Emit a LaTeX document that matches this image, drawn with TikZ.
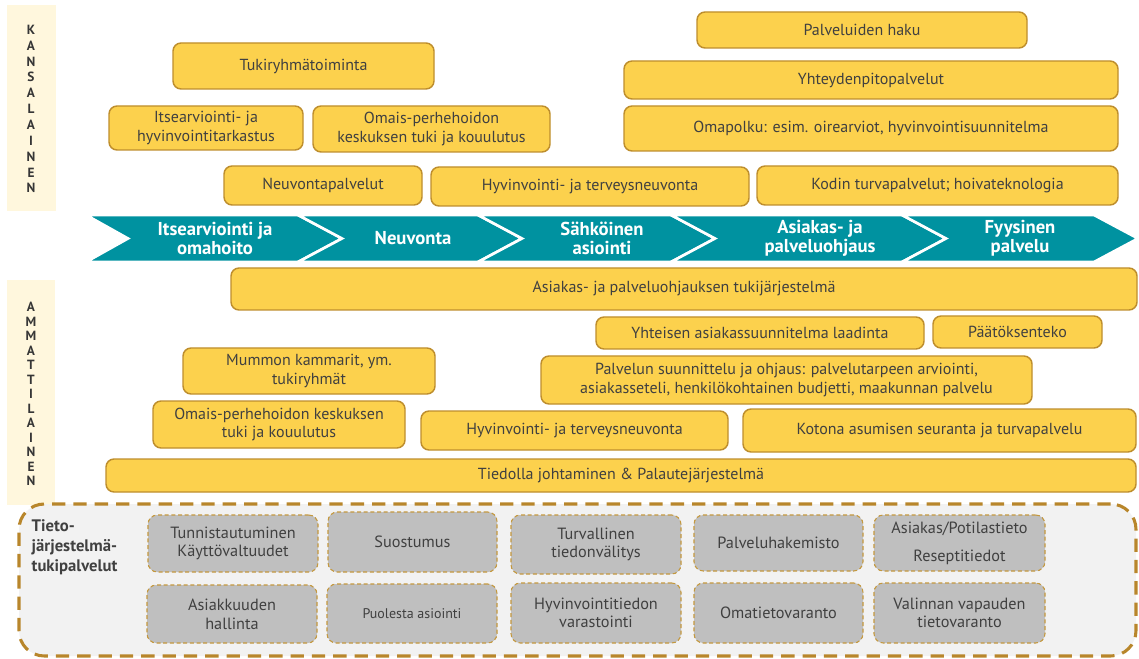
\documentclass[tikz,border=0pt]{standalone}
\usepackage{fontspec}
\setmainfont{PT Sans}
\definecolor{yfill}{RGB}{252,209,77}
\definecolor{ybord}{RGB}{190,142,45}
\definecolor{tealc}{RGB}{0,146,160}
\definecolor{cream}{RGB}{255,247,221}
\definecolor{gfill}{RGB}{191,191,191}
\definecolor{gbord}{RGB}{196,152,62}
\definecolor{cbord}{RGB}{184,134,43}
\definecolor{cfill}{RGB}{242,242,242}
\definecolor{txt}{RGB}{64,64,64}
\tikzset{
  ybox/.style={draw=ybord, fill=yfill, line width=1.1pt, rounded corners=6pt,
    inner sep=0pt, align=center, text=txt, font=\fontsize{12}{13.8}\selectfont},
  gbox/.style={draw=gbord, fill=gfill, line width=0.8pt, dash pattern=on 3pt off 2pt,
    rounded corners=7pt, inner sep=0pt, align=center, text=txt,
    font=\fontsize{12.2}{14}\selectfont},
  chev/.style={fill=tealc, draw=white, line width=2pt, line join=miter},
  chevtxt/.style={text=white, align=center, font=\bfseries\fontsize{14}{14.2}\selectfont},
  sidebar/.style={fill=cream, draw=none, inner sep=0pt},
  sideltr/.style={text=txt!85!black, align=center, font=\bfseries\fontsize{10}{#1}\selectfont},
  container/.style={draw=cbord, fill=cfill, line width=2.3pt, dash pattern=on 10pt off 6pt,
    rounded corners=19pt, inner sep=0pt}
}
% box spanning (x1,y1)-(x2,y2) in pixel units, text centred
\newcommand\pbox[7]{%
  \node[#1, minimum width={(#5-#3)*0.75pt}, minimum height={(#6-#4)*0.75pt}]
    (#2) at ({(#3+#5)/2},{(#4+#6)/2}) {#7};}
\begin{document}
\begin{tikzpicture}[x=0.75pt,y=-0.75pt]
\useasboundingbox (0,0) rectangle (1139,659);

% side bars with stacked role names
\pbox{sidebar}{kbar}{7}{5}{56}{211}{}
\node[sideltr=11.9pt] (kans) at (31,109) {K\\A\\N\\S\\A\\L\\A\\I\\N\\E\\N};
\pbox{sidebar}{abar}{7}{280}{55}{505}{}
\node[sideltr=10.9pt] (amm) at (31,394) {A\\M\\M\\A\\T\\T\\I\\L\\A\\I\\N\\E\\N};

% citizen services
\pbox{ybox}{haku}{697}{12}{1027}{48}{Palveluiden haku}
\pbox{ybox}{tuki}{173}{43}{434}{89}{Tukiryhmätoiminta}
\pbox{ybox}{yht}{624}{61}{1118}{99}{Yhteydenpitopalvelut}
\pbox{ybox}{itse}{109}{106}{303}{150}{Itsearviointi- ja\\hyvinvointitarkastus}
\pbox{ybox}{omais1}{313}{106}{550}{152}{Omais-perhehoidon\\keskuksen tuki ja kouulutus}
\pbox{ybox}{omap}{624}{106}{1118}{151}{Omapolku: esim. oirearviot, hyvinvointisuunnitelma}
\pbox{ybox}{neuv}{224}{166}{422}{205}{Neuvontapalvelut}
\pbox{ybox}{hyv1}{431}{167}{749}{206}{Hyvinvointi- ja terveysneuvonta}
\pbox{ybox}{kodin}{757}{166}{1118}{205}{Kodin turvapalvelut; hoivateknologia}

% process chevrons
\fill[chev] (86,215) -- (298,215) -- (342,238.5) -- (298,262) -- (86,262) -- (128,238.5) -- cycle;
\fill[chev] (298,215) -- (478,215) -- (522,238.5) -- (478,262) -- (298,262) -- (342,238.5) -- cycle;
\fill[chev] (478,215) -- (671,215) -- (715,238.5) -- (671,262) -- (478,262) -- (522,238.5) -- cycle;
\fill[chev] (671,215) -- (902,215) -- (946,238.5) -- (902,262) -- (671,262) -- (715,238.5) -- cycle;
\fill[chev] (902,215) -- (1094,215) -- (1138,238.5) -- (1094,262) -- (902,262) -- (946,238.5) -- cycle;
\node[chevtxt] (s1) at (215,238.5) {Itsearviointi ja\\omahoito};
\node[chevtxt] (s2) at (413,238.5) {Neuvonta};
\node[chevtxt] (s3) at (602,238.5) {Sähköinen\\asiointi};
\node[chevtxt] (s4) at (820,238.5) {Asiakas- ja\\palveluohjaus};
\node[chevtxt] (s5) at (1020,238.5) {Fyysinen\\palvelu};

% professional services
\pbox{ybox}{tukij}{231}{268}{1137}{310}{Asiakas- ja palveluohjauksen tukijärjestelmä}
\pbox{ybox}{yhteis}{596}{317}{924}{349}{Yhteisen asiakassuunnitelma laadinta}
\pbox{ybox}{paat}{933}{316}{1102}{348}{Päätöksenteko}
\pbox{ybox}{mummo}{183}{348}{435}{394}{Mummon kammarit, ym.\\tukiryhmät}
\pbox{ybox}{palv}{541}{356}{1032}{404}{Palvelun suunnittelu ja ohjaus: palvelutarpeen arviointi,\\asiakasseteli, henkilökohtainen budjetti, maakunnan palvelu}
\pbox{ybox}{omais2}{153}{401}{405}{448}{Omais-perhehoidon keskuksen\\tuki ja kouulutus}
\pbox{ybox}{hyv2}{421}{411}{728}{450}{Hyvinvointi- ja terveysneuvonta}
\pbox{ybox}{kotona}{743}{409}{1136}{452}{Kotona asumisen seuranta ja turvapalvelu}
\pbox{ybox}{tiedolla}{106}{459}{1136}{492}{Tiedolla johtaminen \& Palautejärjestelmä}

% information system support services
\pbox{container}{tieto}{19}{504}{1136}{656}{}
\node[anchor=north west, align=left, text=txt, font=\bfseries\fontsize{12.5}{15}\selectfont] (tlabel) at (27,515) {Tieto-\\järjestelmä-\\tukipalvelut};

\pbox{gbox}{g1}{148}{515}{318}{572}{Tunnistautuminen\\Käyttövaltuudet}
\pbox{gbox}{g2}{328}{512}{497}{572}{Suostumus}
\pbox{gbox}{g3}{511}{515}{681}{574}{Turvallinen\\tiedonvälitys}
\pbox{gbox}{g4}{694}{515}{863}{571}{Palveluhakemisto}
\pbox{gbox}{g5}{874}{515}{1045}{571}{Asiakas/Potilastieto\\[7pt]Reseptitiedot}
\pbox{gbox}{g6}{147}{585}{317}{643}{Asiakkuuden\\hallinta}
\pbox{gbox, font=\fontsize{10.5}{12}\selectfont}{g7}{327}{584}{497}{643}{Puolesta asiointi}
\pbox{gbox}{g8}{511}{583}{681}{643}{Hyvinvointitiedon\\varastointi}
\pbox{gbox}{g9}{694}{583}{863}{643}{Omatietovaranto}
\pbox{gbox}{g10}{874}{583}{1045}{643}{Valinnan vapauden\\tietovaranto}
\end{tikzpicture}
\end{document}
